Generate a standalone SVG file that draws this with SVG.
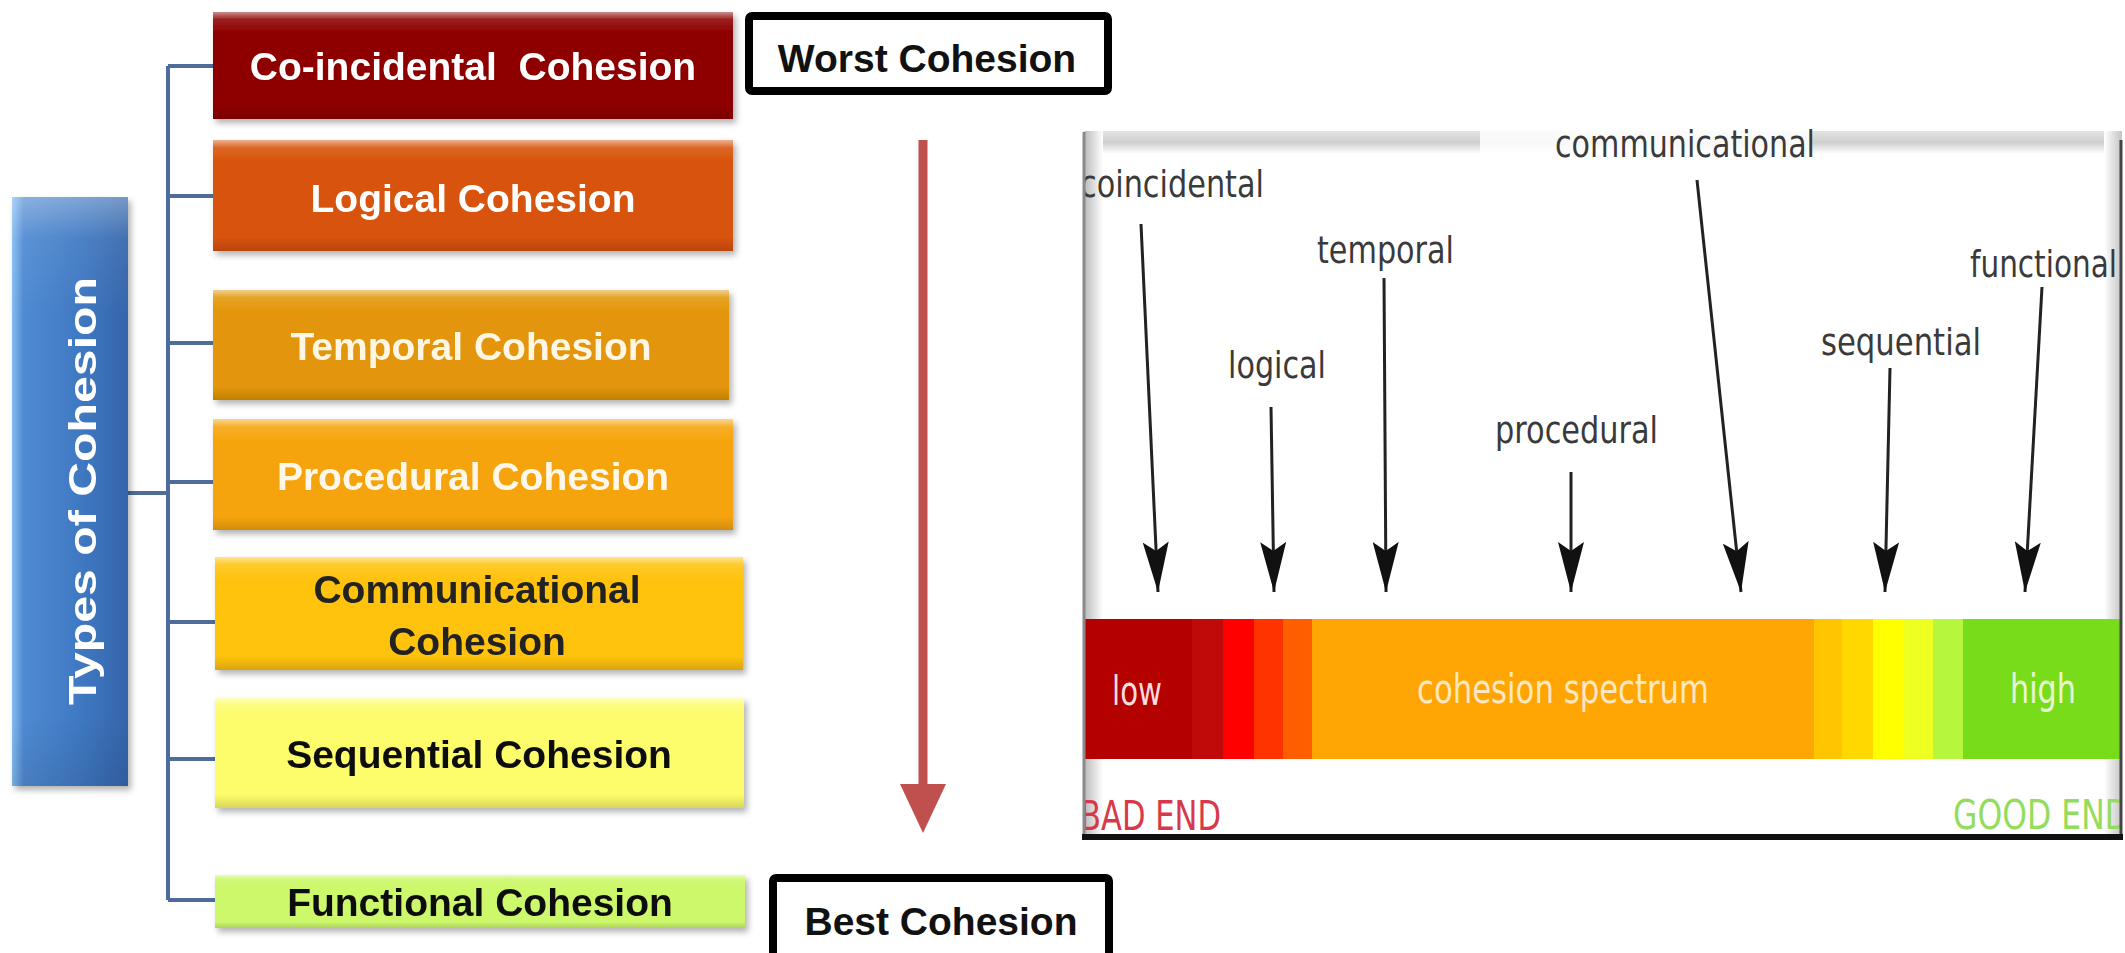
<svg xmlns="http://www.w3.org/2000/svg" width="2125" height="953" viewBox="0 0 2125 953">
  <defs>
    <style>
      .lbl { font-family: "Liberation Sans", Arial, sans-serif; font-weight: bold; font-size: 39px; text-anchor: middle; }
      .tag { font-family: "Liberation Sans", Arial, sans-serif; font-weight: bold; font-size: 39px; text-anchor: middle; fill: #111; }
      .tagbox { fill: #fff; stroke: #000; stroke-width: 8; }
      .tree { fill: none; stroke: #4d6c9c; stroke-width: 4; }
      .spec { font-family: "DejaVu Sans", "Liberation Sans", sans-serif; font-size: 38px; fill: #3a3a3a; }
      .bar-txt { font-family: "DejaVu Sans", "Liberation Sans", sans-serif; font-size: 40px; }
      .ptr { fill: none; stroke: #222; stroke-width: 3; marker-end: url(#head); }
    </style>
    <filter id="shadow" x="-5%" y="-20%" width="115%" height="150%">
      <feDropShadow dx="3" dy="4" stdDeviation="3" flood-color="#000" flood-opacity="0.3"/>
    </filter>
    <!-- bevel overlay shared by all the cohesion boxes -->
    <linearGradient id="gloss" x1="0" y1="0" x2="0" y2="1">
      <stop offset="0" stop-color="#fff" stop-opacity="0.55"/>
      <stop offset="0.07" stop-color="#fff" stop-opacity="0.12"/>
      <stop offset="0.2" stop-color="#fff" stop-opacity="0"/>
      <stop offset="0.88" stop-color="#000" stop-opacity="0"/>
      <stop offset="1" stop-color="#000" stop-opacity="0.15"/>
    </linearGradient>
    <linearGradient id="blueFill" x1="0" y1="0" x2="1" y2="0">
      <stop offset="0" stop-color="#86bdf2"/>
      <stop offset="0.1" stop-color="#4f8ad2"/>
      <stop offset="0.6" stop-color="#3f78c2"/>
      <stop offset="1" stop-color="#3465aa"/>
    </linearGradient>
    <linearGradient id="topBand" x1="0" y1="0" x2="0" y2="1">
      <stop offset="0" stop-color="#e4e4e4"/>
      <stop offset="0.5" stop-color="#cfcfcf"/>
      <stop offset="1" stop-color="#ffffff"/>
    </linearGradient>
    <linearGradient id="leftBand" x1="0" y1="0" x2="1" y2="0">
      <stop offset="0" stop-color="#bdbdbd"/>
      <stop offset="1" stop-color="#ffffff"/>
    </linearGradient>
    <linearGradient id="rightBand" x1="0" y1="0" x2="1" y2="0">
      <stop offset="0" stop-color="#ffffff"/>
      <stop offset="1" stop-color="#c4c4c4"/>
    </linearGradient>
    <clipPath id="panelClip">
      <rect x="1083" y="128" width="1039" height="708"/>
    </clipPath>
    <marker id="head" viewBox="0 0 50 26" refX="50" refY="13" markerWidth="50" markerHeight="26" markerUnits="userSpaceOnUse" orient="auto">
      <path d="M0,0 L50,13 L0,26 L9,13 z" fill="#111"/>
    </marker>
  </defs>

  <rect width="2125" height="953" fill="#fff"/>

  <!-- tree connectors -->
  <g id="connectors">
    <path class="tree" d="M168,66 V900 M168,66 H213 M168,196 H213 M168,343 H213 M168,482 H213 M168,622 H215 M168,759 H215 M168,900 H215"/>
    <path class="tree" d="M128,493 H168" stroke-width="6"/>
    <!-- worst-to-best direction arrow -->
    <line x1="923" y1="140" x2="923" y2="790" stroke="#c0504d" stroke-width="9"/>
    <polygon points="900,784 946,784 923,833" fill="#c0504d"/>
  </g>

  <!-- root node -->
  <g id="types-of-cohesion" filter="url(#shadow)">
    <rect x="12" y="197" width="116" height="589" fill="url(#blueFill)"/>
    <rect x="12" y="197" width="116" height="589" fill="url(#gloss)" opacity="0.6"/>
    <text class="lbl" fill="#fff" font-size="56" transform="translate(96,491) rotate(-90)" x="0" y="0" textLength="428" lengthAdjust="spacingAndGlyphs">Types of Cohesion</text>
  </g>

  <g id="co-incidental" filter="url(#shadow)">
    <rect x="213" y="12" width="520" height="107" fill="#8e0000"/>
    <rect x="213" y="12" width="520" height="107" fill="url(#gloss)"/>
    <text class="lbl" fill="#fff" x="473" y="80" style="white-space:pre">Co-incidental  Cohesion</text>
  </g>

  <g id="logical" filter="url(#shadow)">
    <rect x="213" y="140" width="520" height="111" fill="#d8520a"/>
    <rect x="213" y="140" width="520" height="111" fill="url(#gloss)"/>
    <text class="lbl" fill="#fff" x="473" y="212">Logical Cohesion</text>
  </g>

  <g id="temporal" filter="url(#shadow)">
    <rect x="213" y="290" width="516" height="110" fill="#e39607"/>
    <rect x="213" y="290" width="516" height="110" fill="url(#gloss)"/>
    <text class="lbl" fill="#fff6e4" x="471" y="360">Temporal Cohesion</text>
  </g>

  <g id="procedural" filter="url(#shadow)">
    <rect x="213" y="419" width="520" height="111" fill="#f6a40c"/>
    <rect x="213" y="419" width="520" height="111" fill="url(#gloss)"/>
    <text class="lbl" fill="#fff8ea" x="473" y="490">Procedural Cohesion</text>
  </g>

  <g id="communicational" filter="url(#shadow)">
    <rect x="215" y="557" width="528" height="113" fill="#ffc20e"/>
    <rect x="215" y="557" width="528" height="113" fill="url(#gloss)"/>
    <text class="lbl" fill="#222" x="477" y="603">Communicational</text>
    <text class="lbl" fill="#222" x="477" y="655">Cohesion</text>
  </g>

  <g id="sequential" filter="url(#shadow)">
    <rect x="215" y="698" width="529" height="110" fill="#fdfc6a"/>
    <rect x="215" y="698" width="529" height="110" fill="url(#gloss)"/>
    <text class="lbl" fill="#111" x="479" y="768">Sequential Cohesion</text>
  </g>

  <g id="functional" filter="url(#shadow)">
    <rect x="215" y="875" width="530" height="53" fill="#cdf86c"/>
    <rect x="215" y="875" width="530" height="53" fill="url(#gloss)"/>
    <text class="lbl" fill="#111" x="480" y="916">Functional Cohesion</text>
  </g>

  <g id="worst-cohesion">
    <rect class="tagbox" x="749" y="16" width="359" height="75" rx="3"/>
    <text class="tag" x="927" y="72">Worst Cohesion</text>
  </g>

  <g id="best-cohesion">
    <rect class="tagbox" x="773" y="878" width="336" height="82" rx="3"/>
    <text class="tag" x="941" y="935" font-size="38">Best Cohesion</text>
  </g>

  <!-- cohesion spectrum panel -->
  <g id="spectrum-panel">
    <rect x="1083" y="130" width="1039" height="706" fill="#fff"/>
    <g clip-path="url(#panelClip)">
      <rect x="1083" y="131" width="1039" height="23" fill="url(#topBand)"/>
      <rect x="1480" y="129" width="330" height="28" fill="#fff" opacity="0.85"/>
      <rect x="1085" y="131" width="18" height="706" fill="url(#leftBand)"/>
      <rect x="2104" y="131" width="18" height="706" fill="url(#rightBand)"/>

      <!-- spectrum bar -->
      <g id="spectrum-bar">
        <rect x="1083" y="619" width="109" height="140" fill="#b50000"/>
        <rect x="1192" y="619" width="31" height="140" fill="#c00a0a"/>
        <rect x="1223" y="619" width="31" height="140" fill="#ff0000"/>
        <rect x="1254" y="619" width="29" height="140" fill="#ff3300"/>
        <rect x="1283" y="619" width="29" height="140" fill="#ff5e00"/>
        <rect x="1312" y="619" width="502" height="140" fill="#ffa504"/>
        <rect x="1814" y="619" width="28" height="140" fill="#ffc600"/>
        <rect x="1842" y="619" width="31" height="140" fill="#ffd800"/>
        <rect x="1873" y="619" width="30" height="140" fill="#ffff00"/>
        <rect x="1903" y="619" width="30" height="140" fill="#eeff22"/>
        <rect x="1933" y="619" width="30" height="140" fill="#b6f63c"/>
        <rect x="1963" y="619" width="160" height="140" fill="#78dc1a"/>
        <text class="bar-txt" fill="#f6dede" x="1112" y="705" textLength="50" lengthAdjust="spacingAndGlyphs">low</text>
        <text class="bar-txt" fill="#ffe7c2" x="1417" y="703" textLength="292" lengthAdjust="spacingAndGlyphs">cohesion spectrum</text>
        <text class="bar-txt" fill="#e6f7d4" x="2010" y="703" textLength="66" lengthAdjust="spacingAndGlyphs">high</text>
      </g>

      <text class="bar-txt" fill="#d8394a" x="1080" y="830" textLength="141" lengthAdjust="spacingAndGlyphs">BAD END</text>
      <text class="bar-txt" fill="#94dc5e" x="1953" y="829" textLength="176" lengthAdjust="spacingAndGlyphs">GOOD END</text>

      <!-- labels and pointers -->
      <text class="spec" x="1080" y="197" textLength="184" lengthAdjust="spacingAndGlyphs">coincidental</text>
      <text class="spec" x="1228" y="378" textLength="98" lengthAdjust="spacingAndGlyphs">logical</text>
      <text class="spec" x="1317" y="263" textLength="137" lengthAdjust="spacingAndGlyphs">temporal</text>
      <text class="spec" x="1495" y="443" textLength="163" lengthAdjust="spacingAndGlyphs">procedural</text>
      <text class="spec" x="1555" y="157" textLength="260" lengthAdjust="spacingAndGlyphs">communicational</text>
      <text class="spec" x="1821" y="355" textLength="160" lengthAdjust="spacingAndGlyphs">sequential</text>
      <text class="spec" x="1970" y="277" textLength="147" lengthAdjust="spacingAndGlyphs">functional</text>

      <path class="ptr" d="M1141,224 L1158,592"/>
      <path class="ptr" d="M1271,407 L1274,592"/>
      <path class="ptr" d="M1384,278 L1386,592"/>
      <path class="ptr" d="M1571,472 L1571,592"/>
      <path class="ptr" d="M1697,180 L1741,592"/>
      <path class="ptr" d="M1890,368 L1885,592"/>
      <path class="ptr" d="M2042,287 L2025,592"/>
    </g>
    <line x1="1084" y1="132" x2="1084" y2="836" stroke="#8a8a8a" stroke-width="3"/>
    <line x1="2121" y1="140" x2="2121" y2="838" stroke="#444" stroke-width="3"/>
    <line x1="1082" y1="837" x2="2123" y2="837" stroke="#111" stroke-width="6"/>
  </g>
</svg>
